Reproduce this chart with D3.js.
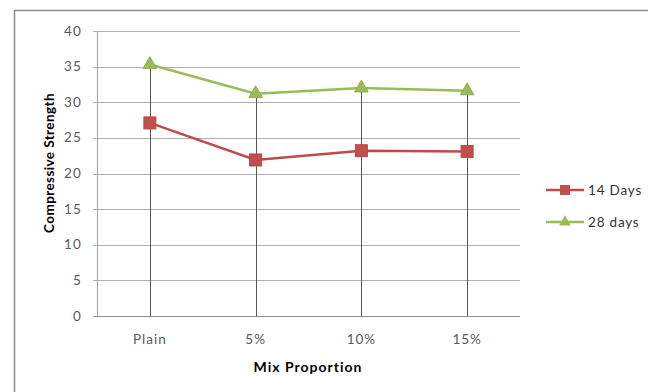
<!DOCTYPE html>
<html><head><meta charset="utf-8">
<script src="https://cdn.jsdelivr.net/npm/d3@7"></script>
<style>body{margin:0;background:#fff}svg{display:block}</style>
</head><body><svg id="c" width="648" height="392"></svg>
<script>
const categories = ["Plain", "5%", "10%", "15%"];
const days14 = [27.1, 21.9, 23.2, 23.1];
const days28 = [35.3, 31.2, 32.0, 31.6];
const seriesNames = ["14 Days", "28 days"];
const yTicks = [0, 5, 10, 15, 20, 25, 30, 35, 40];

const svg = d3.select("#c");
const font = "Lato, Open Sans, sans-serif";
svg.append("rect").attr("x", 14.5).attr("y", 10.5).attr("width", 700).attr("height", 400)
  .attr("fill", "#fff").attr("stroke", "#8c8c8c").attr("stroke-width", 1.5);

const L = 97, R = 520, T = 31, B = 316;
const x = d3.scaleBand().domain(categories).range([L, R]);
const y = d3.scaleLinear().domain([0, 40]).range([B, T]);
const cx = c => x(c) + x.bandwidth() / 2;

// gridlines
svg.append("g").selectAll("line").data(yTicks).join("line")
  .attr("x1", L - 4).attr("x2", R).attr("y1", d => Math.round(y(d)) + 0.5).attr("y2", d => Math.round(y(d)) + 0.5)
  .attr("stroke", d => d === 0 ? "#8c8c8c" : "#b0b0b0").attr("stroke-width", 1);
// y axis line
svg.append("line").attr("x1", L + 0.5).attr("x2", L + 0.5).attr("y1", T).attr("y2", B)
  .attr("stroke", "#a0a0a0");
// y labels
svg.append("g").selectAll("text").data(yTicks).join("text")
  .attr("x", L - 15).attr("y", d => y(d) + 4.5).attr("text-anchor", "end")
  .attr("font-family", font).attr("font-size", 13.5).attr("letter-spacing", 1.2)
  .attr("fill", "#595959").text(d => d);
// x labels
svg.append("g").selectAll("text").data(categories).join("text")
  .attr("x", d => cx(d)).attr("y", B + 28).attr("text-anchor", "middle")
  .attr("font-family", font).attr("font-size", 13.5).attr("letter-spacing", 1)
  .attr("fill", "#595959").text(d => d);

// drop lines
svg.append("g").selectAll("line").data(categories).join("line")
  .attr("x1", d => Math.round(cx(d)) + 0.5).attr("x2", d => Math.round(cx(d)) + 0.5)
  .attr("y1", (d, i) => y(Math.max(days14[i], days28[i]))).attr("y2", B)
  .attr("stroke", "#555").attr("stroke-width", 1);

const line = d3.line().x((d, i) => cx(categories[i])).y(d => y(d));
const colors = ["#BE4B48", "#9BBB59"];
const data = [days14, days28];
data.forEach((s, k) => {
  svg.append("path").datum(s).attr("d", line).attr("fill", "none")
    .attr("stroke", colors[k]).attr("stroke-width", 2.5);
});
// markers
svg.append("g").selectAll("rect").data(days14).join("rect")
  .attr("x", (d, i) => cx(categories[i]) - 6).attr("y", d => y(d) - 6)
  .attr("width", 12).attr("height", 12).attr("fill", "#C0504D").attr("stroke", "#B84744");
const tri = d3.symbol().type(d3.symbolTriangle).size(80);
svg.append("g").selectAll("path").data(days28).join("path")
  .attr("transform", (d, i) => `translate(${cx(categories[i])},${y(d)})`)
  .attr("d", tri).attr("fill", "#9BBB59").attr("stroke", "#8FAF4F");

// axis titles
svg.append("text").attr("transform", `translate(54,163) rotate(-90)`)
  .attr("text-anchor", "middle").attr("font-family", font).attr("font-weight", "bold")
  .attr("font-size", 13.5).attr("letter-spacing", 0.4).attr("fill", "#000").text("Compressive Strength");
svg.append("text").attr("x", 308).attr("y", 372).attr("text-anchor", "middle")
  .attr("font-family", font).attr("font-weight", "bold").attr("font-size", 14)
  .attr("letter-spacing", 1).attr("fill", "#000").text("Mix Proportion");

// legend
const lg = svg.append("g");
seriesNames.forEach((n, k) => {
  const ly = 190 + k * 32;
  lg.append("line").attr("x1", 546).attr("x2", 584).attr("y1", ly).attr("y2", ly)
    .attr("stroke", colors[k]).attr("stroke-width", 2.5);
  if (k === 0) lg.append("rect").attr("x", 560).attr("y", ly - 5).attr("width", 10).attr("height", 10)
    .attr("fill", "#C0504D");
  else lg.append("path").attr("transform", `translate(565,${ly})`)
    .attr("d", d3.symbol().type(d3.symbolTriangle).size(60)).attr("fill", "#9BBB59");
  lg.append("text").attr("x", 588).attr("y", ly + 5).attr("font-family", font)
    .attr("font-size", 13.5).attr("letter-spacing", 0.8).attr("fill", "#333").text(n);
});
</script></body></html>
